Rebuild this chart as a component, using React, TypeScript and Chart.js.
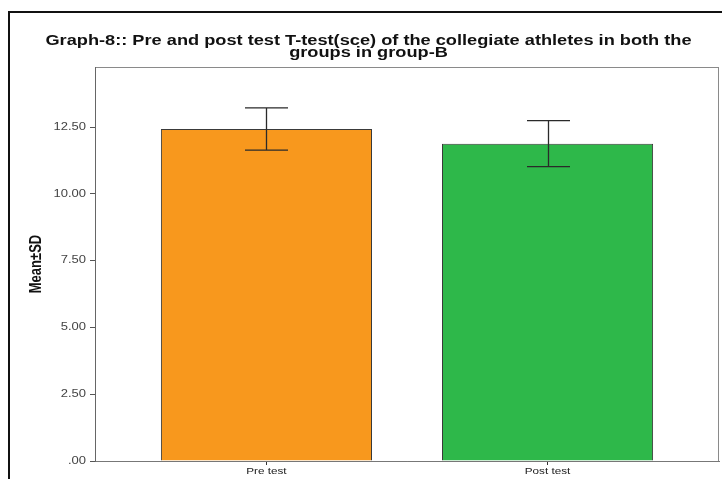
import React, { useEffect, useRef } from "react";
import { Chart, registerables } from "chart.js";

Chart.register(...registerables);

// Group-B collegiate athletes, SCE T-test scores
const categories = ["Pre test", "Post test"];
const means = [12.43, 11.88];
const sds = [0.79, 0.86];
const barColors = ["#F8981D", "#2EB84A"];
const yTickValues = [0, 2.5, 5, 7.5, 10, 12.5];
const titleLines = [
  "Graph-8:: Pre and post test T-test(sce) of the collegiate athletes in both the",
  "groups in group-B",
];
const yAxisTitle = "Mean\u00b1SD";

const fmtTick = (v: number) => (v === 0 ? ".00" : v.toFixed(2));

// all labels are set in a horizontally widened face (SPSS-style export)
const TEXT_STRETCH = 1.3;

const wideText = {
  id: "wideText",
  beforeInit(chart: any) {
    const ctx = chart.ctx;
    if (ctx.__wide) return;
    const orig = ctx.fillText.bind(ctx);
    ctx.fillText = (text: string, x: number, y: number, maxWidth?: number) => {
      const m = ctx.getTransform();
      const p = m.transformPoint(new DOMPoint(x, y));
      const s = new DOMMatrix()
        .translate(p.x, p.y)
        .scale(TEXT_STRETCH, 1)
        .translate(-p.x, -p.y)
        .multiply(m);
      ctx.save();
      ctx.setTransform(s);
      if (maxWidth === undefined) orig(text, x, y);
      else orig(text, x, y, maxWidth);
      ctx.restore();
    };
    ctx.__wide = true;
  },
};

// outer frame, heading, plot-area box and the ±SD whiskers
const decorations = {
  id: "decorations",
  beforeDraw(chart: any) {
    const { ctx, chartArea: a } = chart;
    ctx.save();
    ctx.fillStyle = "#ffffff";
    ctx.fillRect(0, 0, chart.width, chart.height);
    ctx.strokeStyle = "#111";
    ctx.lineWidth = 2;
    ctx.beginPath();
    ctx.moveTo(9, chart.height + 2);
    ctx.lineTo(9, 12);
    ctx.lineTo(chart.width + 2, 12);
    ctx.stroke();
    ctx.strokeStyle = "#8a8a8a";
    ctx.lineWidth = 1;
    ctx.strokeRect(a.left + 0.5, a.top + 0.5, a.right - a.left - 1, a.bottom - a.top);

    ctx.fillStyle = "#111";
    ctx.font = "bold 14px 'Liberation Sans', Arial, sans-serif";
    ctx.textAlign = "center";
    ctx.textBaseline = "alphabetic";
    titleLines.forEach((line, i) => ctx.fillText(line, 368.5, 44.5 + i * 12.8));
    ctx.restore();
  },
  afterDatasetsDraw(chart: any) {
    const { ctx } = chart;
    const xs = chart.scales.x;
    const ys = chart.scales.y;
    ctx.save();
    ctx.strokeStyle = "#2a2a2a";
    ctx.lineWidth = 1.3;
    means.forEach((m, i) => {
      const x = Math.round(xs.getPixelForValue(i)) + 0.5;
      const top = ys.getPixelForValue(m + sds[i]);
      const bot = ys.getPixelForValue(m - sds[i]);
      const half = 21.5;
      ctx.beginPath();
      ctx.moveTo(x, top);
      ctx.lineTo(x, bot);
      ctx.moveTo(x - half, top);
      ctx.lineTo(x + half, top);
      ctx.moveTo(x - half, bot);
      ctx.lineTo(x + half, bot);
      ctx.stroke();
    });
    ctx.restore();
  },
};

export default function App() {
  const ref = useRef<HTMLCanvasElement | null>(null);

  useEffect(() => {
    if (!ref.current) return;
    const chart = new Chart(ref.current, {
      type: "bar",
      data: {
        datasets: [
          {
            data: means.map((m, i) => ({ x: i, y: m })),
            backgroundColor: barColors,
            borderColor: "#3a3a3a",
            borderWidth: 1,
            barPercentage: 0.751,
            categoryPercentage: 1,
          },
        ],
      },
      options: {
        responsive: false,
        animation: false,
        layout: { padding: { left: 0, right: 3, top: 67, bottom: 0 } },
        plugins: {
          legend: { display: false },
          tooltip: { enabled: false },
          title: { display: false },
        },
        scales: {
          x: {
            type: "linear",
            offset: false,
            min: -0.61,
            max: 1.61,
            afterBuildTicks: (s: any) => {
              s.ticks = categories.map((_, i) => ({ value: i }));
            },
            afterFit: (s: any) => {
              s.height = 18;
            },
            grid: { offset: false, drawOnChartArea: false, drawTicks: true, tickLength: 4, color: "#333" },
            border: { color: "#777", width: 1 },
            ticks: {
              autoSkip: false,
              maxRotation: 0,
              padding: 1,
              color: "#222",
              font: { family: "'Liberation Sans', Arial, sans-serif", size: 9 },
              callback: (v: any) => categories[v] ?? "",
            },
          },
          y: {
            min: 0,
            max: 14.75,
            afterBuildTicks: (s: any) => {
              s.ticks = yTickValues.map((v) => ({ value: v }));
            },
            afterFit: (s: any) => {
              s.width = 95;
            },
            grid: { drawOnChartArea: false, drawTicks: true, tickLength: 5, color: "#555" },
            border: { color: "#666", width: 1 },
            title: {
              display: true,
              text: yAxisTitle,
              color: "#111",
              font: { family: "'Liberation Sans', Arial, sans-serif", size: 13, weight: "bold", lineHeight: 1.2 },
              padding: { top: 29, bottom: 0 },
            },
            ticks: {
              padding: 4,
              color: "#444",
              font: { family: "'Liberation Sans', Arial, sans-serif", size: 10 },
              callback: (v: any) => fmtTick(Number(v)),
            },
          },
        },
      },
      plugins: [wideText, decorations],
    });
    return () => chart.destroy();
  }, []);

  return (
    <div style={{ position: "fixed", left: 0, top: 0, width: 722, height: 479, background: "#fff" }}>
      <canvas ref={ref} width={722} height={479} style={{ width: 722, height: 479, display: "block" }} />
    </div>
  );
}
